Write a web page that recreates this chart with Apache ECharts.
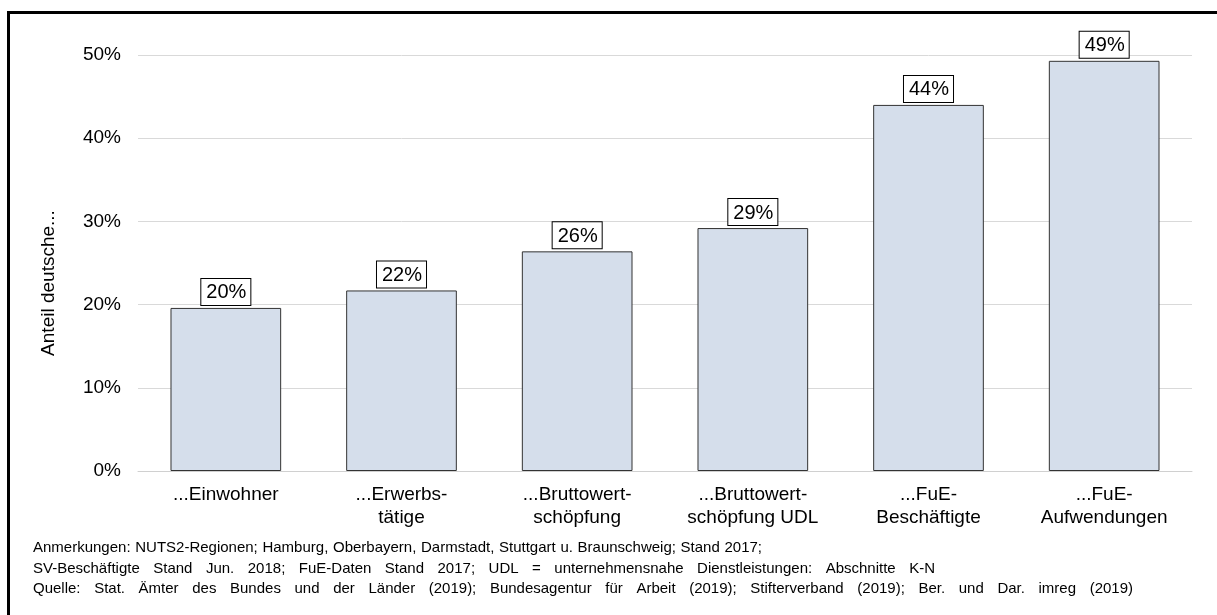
<!DOCTYPE html>
<html>
<head>
<meta charset="utf-8">
<script src="https://cdn.jsdelivr.net/npm/echarts@6/dist/echarts.min.js"></script>
<style>
html,body{margin:0;padding:0;background:#fff;}
#c{width:1217px;height:615px;}
</style>
</head>
<body>
<div id="c"></div>
<script>
const categories = ['...Einwohner', '...Erwerbs-\ntätige', '...Bruttowert-\nschöpfung', '...Bruttowert-\nschöpfung UDL', '...FuE-\nBeschäftigte', '...FuE-\nAufwendungen'];
const values = [19.6, 21.7, 26.4, 29.2, 44.0, 49.3];
const yTicks = [0, 10, 20, 30, 40, 50];
const yAxisName = 'Anteil deutsche...';
const notes = [
  'Anmerkungen: NUTS2-Regionen; Hamburg, Oberbayern, Darmstadt, Stuttgart u. Braunschweig; Stand 2017;',
  'SV-Beschäftigte Stand Jun. 2018; FuE-Daten Stand 2017; UDL = unternehmensnahe Dienstleistungen: Abschnitte K-N',
  'Quelle: Stat. Ämter des Bundes und der Länder (2019); Bundesagentur für Arbeit (2019); Stifterverband (2019); Ber. und Dar. imreg (2019)'
];

const font = 'Arial, "Liberation Sans", sans-serif';
const noteFont = '15px ' + font;
// layout of the note lines (left edge, line end, first baseline-middle, line step)
const noteLeft = 33, noteEnds = [762, 935, 1133], noteTop = 548, noteStep = 20.5;

const ctx = document.createElement('canvas').getContext('2d');
ctx.font = noteFont;
const noteGraphics = [];
notes.forEach((line, i) => {
  const words = line.split(' ');
  const widths = words.map(w => ctx.measureText(w).width);
  const total = widths.reduce((a, b) => a + b, 0);
  const gap = Math.max(ctx.measureText(' ').width, (noteEnds[i] - noteLeft - total) / (words.length - 1));
  let x = noteLeft;
  words.forEach((w, j) => {
    noteGraphics.push({type: 'text', x: x, y: noteTop + i * noteStep, silent: true,
      style: {text: w, fill: '#000', font: noteFont, textAlign: 'left', textVerticalAlign: 'middle'}});
    x += widths[j] + gap;
  });
});

const chart = echarts.init(document.getElementById('c'));
chart.setOption({
  animation: false,
  grid: {left: 138, right: 25, top: 55, height: 416},
  xAxis: {
    type: 'category',
    data: categories,
    axisLine: {lineStyle: {color: '#d0d0d0', width: 1}},
    axisTick: {show: false},
    axisLabel: {color: '#000', fontSize: 19, fontFamily: font, lineHeight: 23, margin: 12}
  },
  yAxis: {
    type: 'value',
    min: yTicks[0], max: yTicks[yTicks.length - 1], interval: yTicks[1] - yTicks[0],
    axisLabel: {color: '#000', fontSize: 19, fontFamily: font, margin: 17, formatter: v => v + '%'},
    splitLine: {lineStyle: {color: '#d9d9d9', width: 1}},
    axisLine: {show: false},
    axisTick: {show: false}
  },
  series: [{
    type: 'bar',
    data: values,
    barWidth: '63%',
    itemStyle: {color: '#d5deeb', borderColor: '#333', borderWidth: 1},
    label: {
      show: true,
      position: 'top',
      distance: 3,
      formatter: p => Math.round(p.value) + '%',
      color: '#000',
      fontSize: 20,
      fontFamily: font,
      backgroundColor: '#fff',
      borderColor: '#000',
      borderWidth: 1,
      padding: [4, 4, 2, 5]
    }
  }],
  graphic: [
    {type: 'rect', shape: {x: 7, y: 11, width: 1210, height: 3}, style: {fill: '#000'}, silent: true},
    {type: 'rect', shape: {x: 7, y: 11, width: 3, height: 604}, style: {fill: '#000'}, silent: true},
    {type: 'text', x: 49, y: 283, rotation: Math.PI / 2, silent: true,
     style: {text: yAxisName, fill: '#000', font: '19px ' + font, textAlign: 'center', textVerticalAlign: 'middle'}}
  ].concat(noteGraphics)
});
</script>
</body>
</html>
